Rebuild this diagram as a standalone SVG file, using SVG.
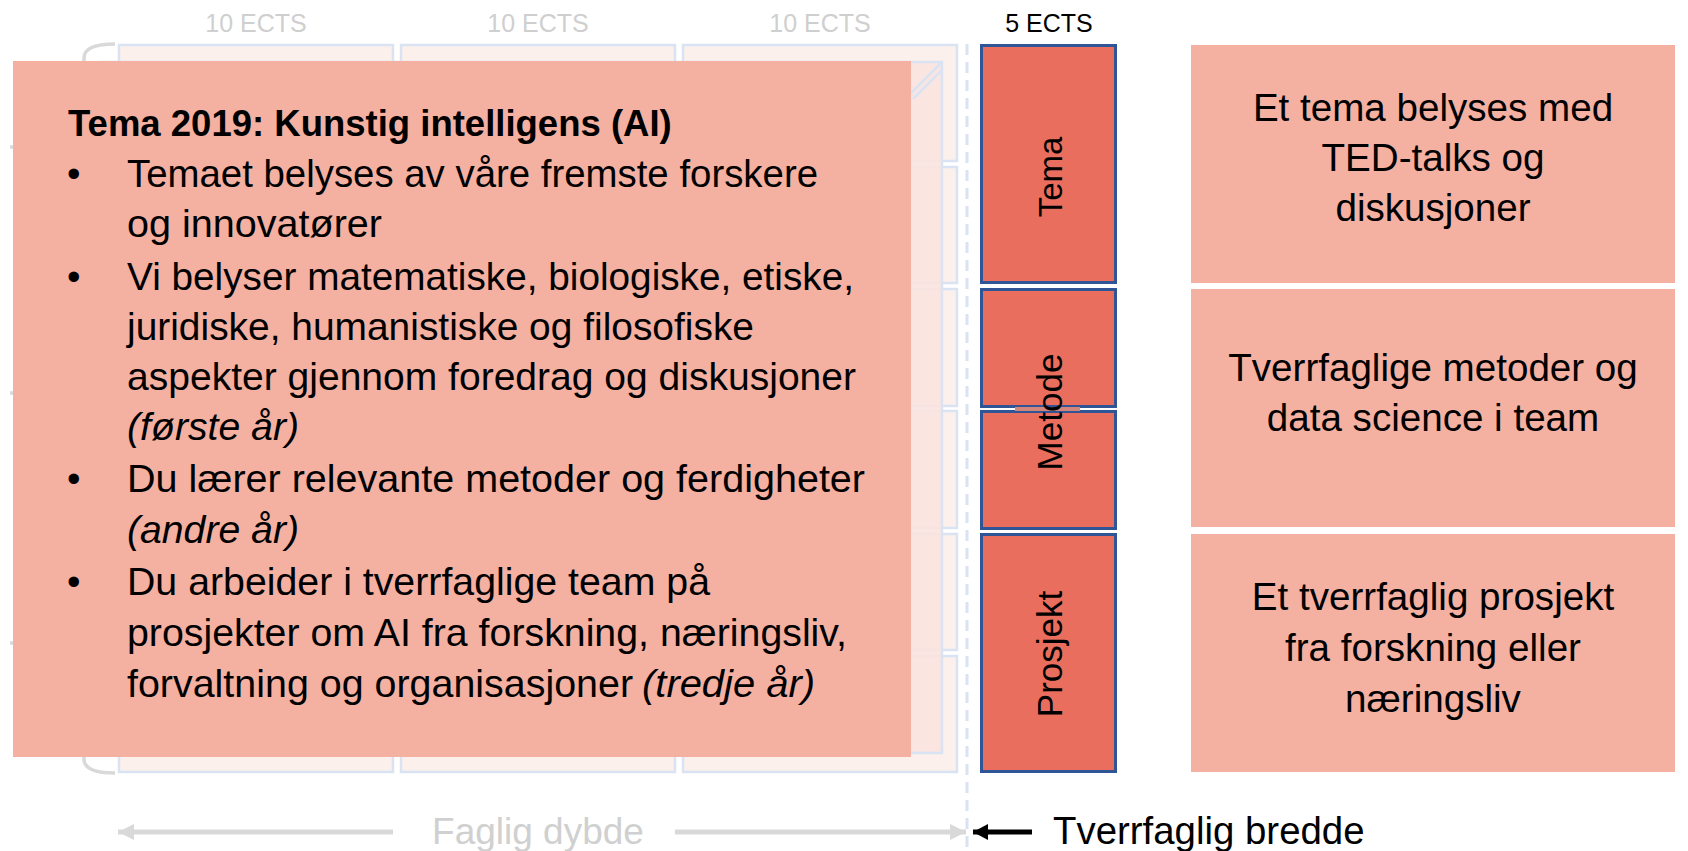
<svg xmlns="http://www.w3.org/2000/svg" width="1688" height="851" viewBox="0 0 1688 851">
<defs>
<style>
text{font-family:"Liberation Sans",Arial,sans-serif;}
.row{fill:#fcf0ed;stroke:#dae3f3;stroke-width:2.5;}
.ects{font-size:25px;fill:#cfcfcf;text-anchor:middle;}
.body{font-size:38.5px;fill:#000;}
.it{font-style:italic;}
.salmon{fill:#f4b0a1;}
.red{fill:#ea6e5d;stroke:#2f5597;stroke-width:3;}
.rot{font-size:35px;fill:#000;text-anchor:middle;}
.ctr{font-size:38.6px;fill:#000;text-anchor:middle;}
</style>
<marker id="ahGray" markerUnits="userSpaceOnUse" markerWidth="18" markerHeight="18" refX="16" refY="8" orient="auto"><path d="M0,0 L16,8 L0,16 z" fill="#d9d9d9"/></marker>
<marker id="ahBlack" markerUnits="userSpaceOnUse" markerWidth="18" markerHeight="18" refX="15" refY="8" orient="auto"><path d="M0,0 L15,8 L0,16 z" fill="#000"/></marker>
</defs>
<rect width="1688" height="851" fill="#fff"/>

<g id="ects-labels">
<text class="ects" x="256" y="32">10 ECTS</text>
<text class="ects" x="538" y="32">10 ECTS</text>
<text class="ects" x="820" y="32">10 ECTS</text>
<text x="1049" y="32" style="font-size:25px;fill:#000;text-anchor:middle">5 ECTS</text>
</g>

<g id="brace" fill="none" stroke="#d9d9d9" stroke-width="3.5">
<path d="M115,44 Q84,44 84,58 L84,132 Q84,147 10,147 Q84,147 84,162 L84,378 Q84,393 10,393 Q84,393 84,408 L84,628 Q84,643 10,643 Q84,643 84,658 L84,759 Q84,773 115,773"/>
</g>

<g id="col1">
<rect class="row" x="119" y="45" width="274" height="116"/>
<rect class="row" x="119" y="167" width="274" height="116"/>
<rect class="row" x="119" y="289" width="274" height="117"/>
<rect class="row" x="119" y="411" width="274" height="117"/>
<rect class="row" x="119" y="534" width="274" height="116"/>
<rect class="row" x="119" y="656" width="274" height="116"/>
</g>
<g id="col2">
<rect class="row" x="401" y="45" width="274" height="116"/>
<rect class="row" x="401" y="167" width="274" height="116"/>
<rect class="row" x="401" y="289" width="274" height="117"/>
<rect class="row" x="401" y="411" width="274" height="117"/>
<rect class="row" x="401" y="534" width="274" height="116"/>
<rect class="row" x="401" y="656" width="274" height="116"/>
</g>
<g id="col3">
<rect class="row" x="683" y="45" width="274" height="116"/>
<rect class="row" x="683" y="167" width="274" height="116"/>
<rect class="row" x="683" y="289" width="274" height="117"/>
<rect class="row" x="683" y="411" width="274" height="117"/>
<rect class="row" x="683" y="534" width="274" height="116"/>
<rect class="row" x="683" y="656" width="274" height="116"/>
</g>

<g id="inner-frame">
<rect x="100" y="62" width="842" height="691" fill="#f9e3df" fill-opacity="0.9" stroke="#dae3f3" stroke-width="2.5"/>
<line x1="942" y1="62" x2="911" y2="93" stroke="#dae3f3" stroke-width="2.5"/>
<line x1="942" y1="70" x2="913" y2="99" stroke="#dae3f3" stroke-width="2.5"/>
</g>

<line id="divider" x1="967" y1="44" x2="967" y2="851" stroke="#dae3f3" stroke-width="3" stroke-dasharray="11 7"/>

<g id="overlay">
<rect class="salmon" x="13" y="61" width="898" height="696"/>
<text x="68" y="136" style="font-size:36.5px;font-weight:bold">Tema 2019: Kunstig intelligens (AI)</text>
<text class="body" x="67" y="187">•</text>
<text class="body" x="127" y="187" textLength="691" lengthAdjust="spacingAndGlyphs">Temaet belyses av våre fremste forskere</text>
<text class="body" x="127" y="237" textLength="255" lengthAdjust="spacingAndGlyphs">og innovatører</text>
<text class="body" x="67" y="290">•</text>
<text class="body" x="127" y="290" textLength="727" lengthAdjust="spacingAndGlyphs">Vi belyser matematiske, biologiske, etiske,</text>
<text class="body" x="127" y="340" textLength="627" lengthAdjust="spacingAndGlyphs">juridiske, humanistiske og filosofiske</text>
<text class="body" x="127" y="390" textLength="729" lengthAdjust="spacingAndGlyphs">aspekter gjennom foredrag og diskusjoner</text>
<text class="body it" x="127" y="440" textLength="172" lengthAdjust="spacingAndGlyphs">(første år)</text>
<text class="body" x="67" y="492">•</text>
<text class="body" x="127" y="492" textLength="738" lengthAdjust="spacingAndGlyphs">Du lærer relevante metoder og ferdigheter</text>
<text class="body it" x="127" y="543" textLength="172" lengthAdjust="spacingAndGlyphs">(andre år)</text>
<text class="body" x="67" y="595">•</text>
<text class="body" x="127" y="595" textLength="583" lengthAdjust="spacingAndGlyphs">Du arbeider i tverrfaglige team på</text>
<text class="body" x="127" y="646" textLength="720" lengthAdjust="spacingAndGlyphs">prosjekter om AI fra forskning, næringsliv,</text>
<text class="body" x="127" y="697" textLength="506" lengthAdjust="spacingAndGlyphs">forvaltning og organisasjoner</text>
<text class="body it" x="642" y="697" textLength="173" lengthAdjust="spacingAndGlyphs">(tredje år)</text>
</g>

<g id="tema">
<rect class="red" x="981.5" y="45.5" width="134" height="237"/>
<text class="rot" transform="translate(1062,177) rotate(-90)" style="font-size:33px">Tema</text>
</g>
<g id="metode">
<rect class="red" x="981.5" y="289.5" width="134" height="117"/>
<rect class="red" x="981.5" y="411.5" width="134" height="117"/>
<rect x="1015" y="407" width="65" height="4" fill="#d4857b"/>
<text class="rot" transform="translate(1062,412) rotate(-90)">Metode</text>
</g>
<g id="prosjekt">
<rect class="red" x="981.5" y="534.5" width="134" height="237"/>
<text class="rot" transform="translate(1062,654) rotate(-90)">Prosjekt</text>
</g>

<g id="desc-tema">
<rect class="salmon" x="1191" y="45" width="484" height="238"/>
<text class="ctr" x="1433" y="121">Et tema belyses med</text>
<text class="ctr" x="1433" y="171">TED-talks og</text>
<text class="ctr" x="1433" y="221">diskusjoner</text>
</g>
<g id="desc-metode">
<rect class="salmon" x="1191" y="289" width="484" height="238"/>
<text class="ctr" x="1433" y="381">Tverrfaglige metoder og</text>
<text class="ctr" x="1433" y="431">data science i team</text>
</g>
<g id="desc-prosjekt">
<rect class="salmon" x="1191" y="534" width="484" height="238"/>
<text class="ctr" x="1433" y="610">Et tverrfaglig prosjekt</text>
<text class="ctr" x="1433" y="661">fra forskning eller</text>
<text class="ctr" x="1433" y="712">næringsliv</text>
</g>

<g id="connectors">
<line x1="393" y1="832" x2="118" y2="832" stroke="#d9d9d9" stroke-width="5" marker-end="url(#ahGray)"/>
<line x1="675" y1="832" x2="966" y2="832" stroke="#d9d9d9" stroke-width="5" marker-end="url(#ahGray)"/>
<line x1="1032" y1="832" x2="973" y2="832" stroke="#000" stroke-width="5" marker-end="url(#ahBlack)"/>
</g>
<g id="axis-labels">
<text x="538" y="844" style="font-size:37px;fill:#d0d0d0;text-anchor:middle">Faglig dybde</text>
<text x="1053" y="844" style="font-size:38.4px;fill:#000">Tverrfaglig bredde</text>
</g>
</svg>
